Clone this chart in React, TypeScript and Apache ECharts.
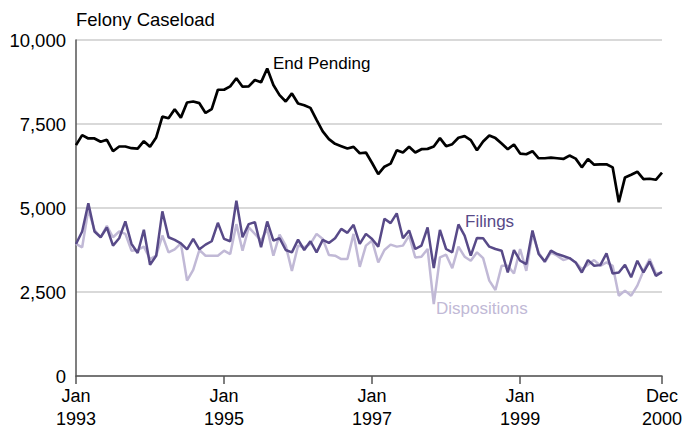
import React, { useEffect, useRef } from "react";
import * as echarts from "echarts";

const MONTHS = ["Jan", "Feb", "Mar", "Apr", "May", "Jun", "Jul", "Aug", "Sep", "Oct", "Nov", "Dec"];
const YEARS = [1993, 1994, 1995, 1996, 1997, 1998, 1999, 2000];
const LABELED_INDEXES = [0, 24, 48, 72, 95];

const endPending = [
  6870, 7170, 7070, 7070, 6970, 7030, 6690, 6830, 6830, 6780, 6770, 6990,
  6820, 7100, 7720, 7670, 7940, 7690, 8140, 8170, 8120, 7830, 7940, 8520,
  8520, 8620, 8860, 8610, 8620, 8810, 8740, 9150, 8660, 8360, 8170, 8410,
  8110, 8060, 7980, 7620, 7280, 7050, 6910, 6840, 6770, 6820, 6630, 6650,
  6340, 6010, 6230, 6320, 6720, 6650, 6820, 6650, 6750, 6760, 6830, 7080,
  6840, 6900, 7090, 7140, 7020, 6720, 6980, 7160, 7080, 6920, 6750, 6890,
  6620, 6600, 6690, 6480, 6480, 6500, 6480, 6460, 6560, 6470, 6210, 6460,
  6290, 6300, 6300, 6210, 5170, 5910, 5990, 6080, 5860, 5870, 5840, 6050,
];

const filings = [
  3930, 4300, 5140, 4300, 4130, 4420, 3880, 4100, 4600, 3930, 3660, 4350,
  3310, 3580, 4900, 4130, 4050, 3950, 3770, 4080, 3770, 3910, 4010, 4560,
  4080, 4010, 5220, 4130, 4520, 4580, 3830, 4600, 4030, 4100, 3750, 3680,
  4060, 3750, 4010, 3680, 4050, 3960, 4100, 4380, 4260, 4500, 3930, 4230,
  4080, 3850, 4680, 4550, 4840, 4100, 4330, 3780, 3880, 4420, 3210, 4350,
  3780, 3680, 4510, 4180, 3580, 4110, 4100, 3850, 3780, 3730, 3080, 3750,
  3430, 3330, 4330, 3630, 3410, 3730, 3630, 3570, 3510, 3380, 3080, 3450,
  3280, 3300, 3650, 3050, 3080, 3310, 2940, 3430, 3080, 3410, 2980, 3100,
];

const dispositions = [
  3930, 3830, 4950, 4340, 4130, 4470, 4130, 4300, 4230, 3730, 3750, 3850,
  3480, 3580, 4180, 3680, 3770, 3950, 2840, 3160, 3750, 3580, 3580, 3580,
  3730, 3630, 4520, 3730, 4420, 4230, 4030, 4380, 3580, 4210, 3880, 3130,
  3880, 3830, 3930, 4230, 4080, 3600, 3580, 3480, 3480, 4230, 3250, 3880,
  4030, 3380, 3750, 3910, 3850, 3880, 4180, 3530, 3550, 3780, 2140, 3530,
  3610, 3210, 3850, 3550, 3430, 3680, 3510, 2840, 2560, 3280, 3280, 3050,
  3780, 3130, 4230, 3680, 3380, 3680, 3580, 3450, 3510, 3380, 3180, 3310,
  3450, 3280, 3380, 3280, 2390, 2540, 2390, 2690, 3130, 3480, 3050, 3070,
];

const categories: string[] = [];
YEARS.forEach((y) => MONTHS.forEach((m) => categories.push(m + "\n" + y)));

const FONT = "'Liberation Sans', Arial, sans-serif";
const DARK = "#584a88";
const LIGHT = "#c1b9d6";

export default function App() {
  const ref = useRef<HTMLDivElement>(null);
  useEffect(() => {
    if (!ref.current) return;
    const chart = echarts.init(ref.current, null, { renderer: "svg" });
    chart.setOption({
      animation: false,
      backgroundColor: "#fff",
      title: {
        text: "Felony Caseload",
        left: 71,
        top: 5,
        textStyle: { fontFamily: FONT, fontSize: 18.5, fontWeight: "normal", color: "#000" },
      },
      grid: { left: 76, right: 32, top: 40, bottom: 54, containLabel: false },
      xAxis: {
        type: "category",
        data: categories,
        boundaryGap: false,
        axisLine: { lineStyle: { color: "#555", width: 1.5 } },
        axisTick: {
          show: true,
          length: 8,
          interval: (i: number) => LABELED_INDEXES.includes(i),
          lineStyle: { color: "#555", width: 1.5 },
        },
        axisLabel: {
          interval: (i: number) => LABELED_INDEXES.includes(i),
          fontFamily: FONT,
          fontSize: 18,
          color: "#000",
          lineHeight: 23,
          margin: 8,
          showMaxLabel: true,
        },
        splitLine: { show: false },
      },
      yAxis: {
        type: "value",
        min: 0,
        max: 10000,
        interval: 2500,
        axisLine: { show: true, lineStyle: { color: "#555", width: 1.5 } },
        axisTick: { show: false },
        axisLabel: {
          fontFamily: FONT,
          fontSize: 18.5,
          color: "#000",
          margin: 10,
          padding: [6, 0, 0, 0],
          formatter: (v: number) => v.toLocaleString("en-US"),
        },
        splitLine: { show: true, lineStyle: { color: "#cccccc", width: 1.5 } },
      },
      series: [
        {
          name: "Dispositions",
          type: "line",
          data: dispositions,
          symbol: "none",
          lineStyle: { color: LIGHT, width: 2.5 },
          z: 2,
        },
        {
          name: "Filings",
          type: "line",
          data: filings,
          symbol: "none",
          lineStyle: { color: DARK, width: 2.5 },
          z: 3,
        },
        {
          name: "End Pending",
          type: "line",
          data: endPending,
          symbol: "none",
          lineStyle: { color: "#000", width: 2.7 },
          z: 4,
        },
      ],
      graphic: [
        {
          type: "text",
          left: 273,
          top: 55,
          style: { text: "End Pending", fontFamily: FONT, fontSize: 17, fill: "#000" },
        },
        {
          type: "text",
          left: 465,
          top: 213,
          style: { text: "Filings", fontFamily: FONT, fontSize: 17, fill: DARK },
        },
        {
          type: "text",
          left: 436,
          top: 300,
          style: { text: "Dispositions", fontFamily: FONT, fontSize: 17, fill: LIGHT },
        },
      ],
    });
    return () => chart.dispose();
  }, []);
  return <div ref={ref} style={{ width: 694, height: 430, position: "absolute", left: 0, top: 0 }} />;
}
